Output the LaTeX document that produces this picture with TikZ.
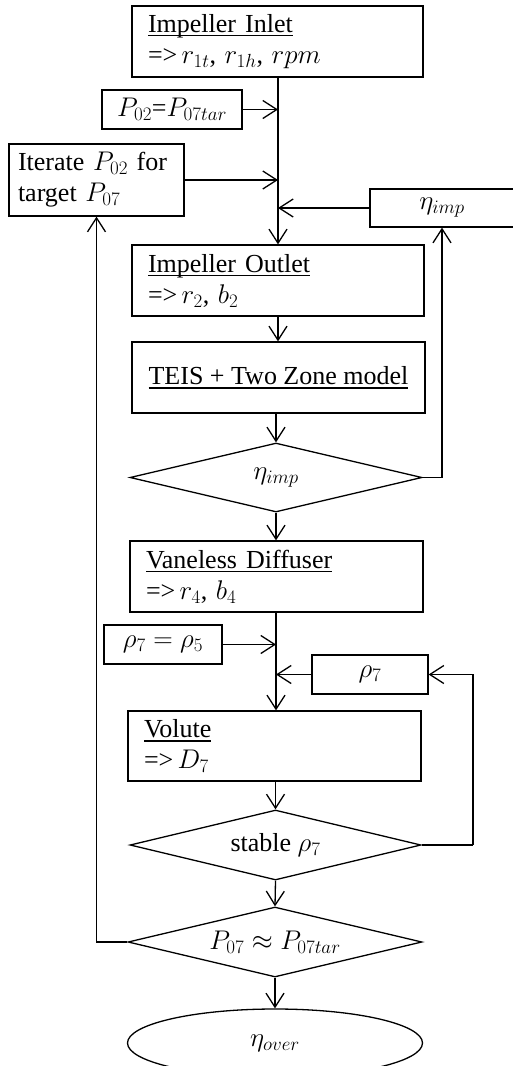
\RequirePackage{fix-cm}
\documentclass[tikz,border=0pt]{standalone}
\usepackage{fontspec}
\setmainfont{Liberation Serif}
\usetikzlibrary{shapes.geometric,arrows.meta}
\DeclareMathSizes{26}{27}{19}{15}
\newcommand{\myul}[1]{\setbox0\hbox{#1}\rlap{\rule[-4pt]{\wd0}{1.1pt}}\box0}
\tikzset{
  base/.style={draw=black, line width=1.3pt, font=\fontsize{26}{31}\selectfont, inner sep=0pt},
  bigbox/.style={base, rectangle, align=left, inner xsep=16pt, minimum height=71pt},
  smallbox/.style={base, rectangle, align=center},
  decision/.style={base, diamond, aspect=4},
  endnode/.style={base, ellipse},
  arr/.style={draw=black, line width=1.3pt, -{Straight Barb[length=14pt,width=18pt,line width=1.3pt]}},
  conn/.style={draw=black, line width=1.3pt},
}
\begin{document}
\begin{tikzpicture}[x=1pt,y=-1pt]
\useasboundingbox (0,0) rectangle (512,1066);
% main column
\node[bigbox, text width=259pt] (inlet) at (277.5,41.5)
  {\myul{Impeller\hspace{0.35em}Inlet}\\=>\,$r_{1t}$, $r_{1h}$, $rpm$};
\node[smallbox, minimum width=140pt, minimum height=39pt] (p02) at (172,109.5)
  {$P_{02}$=$P_{07tar}$};
\node[base, rectangle, align=left, text width=157pt, inner xsep=9pt, minimum height=72pt] (iter) at (96.5,180)
  {Iterate $P_{02}$ for\\target $P_{07}$};
\node[smallbox, minimum width=144pt, minimum height=38pt] (etaimp) at (442,208)
  {$\eta_{imp}$};
\node[bigbox, text width=260pt] (outlet) at (278,280.5)
  {\myul{Impeller\hspace{0.35em}Outlet}\\=>\,$r_2$, $b_2$};
\node[smallbox, minimum width=293pt, minimum height=71pt] (teis) at (278.5,377.5)
  {\myul{TEIS + Two Zone model}};
\node[decision, minimum width=292pt, minimum height=69pt] (d1) at (276,477.5)
  {$\eta_{imp}$};
\node[bigbox, text width=261pt] (diff) at (276.5,576.5)
  {\myul{Vaneless\hspace{0.35em}Diffuser}\\=>\,$r_4$, $b_4$};
\node[smallbox, minimum width=118pt, minimum height=39pt] (rho75) at (163,644.5)
  {$\rho_7 = \rho_5$};
\node[smallbox, minimum width=116pt, minimum height=39pt] (rho7) at (370,674.5)
  {$\rho_7$};
\node[bigbox, text width=261pt, minimum height=70pt] (volute) at (274.5,746)
  {\myul{Volute}\\=>\,$D_7$};
\node[decision, minimum width=291pt, minimum height=70pt] (d2) at (275.5,845)
  {stable $\rho_7$};
\node[decision, minimum width=294pt, minimum height=70pt] (d3) at (275,942)
  {$P_{07}\approx P_{07tar}$};
\node[endnode, minimum width=295pt, minimum height=68pt] (over) at (275,1043)
  {$\eta_{over}$};
% connectors
\coordinate (top) at (278,77);
\draw[arr] (inlet.south -| top) -- (outlet.north -| top);
\draw[arr] (p02.east) -- (p02.east -| top);
\draw[arr] (iter.east) -- (iter.east -| top);
\draw[arr] (etaimp.west) -- (etaimp.west -| top);
\draw[arr] (outlet.south -| top) -- (teis.north -| top);
\draw[arr] (teis.south -| d1.north) -- (d1.north);
\draw[arr] (d1.east) -| (etaimp.south);
\draw[arr] (d1.south) -- (diff.north -| d1.south);
\coordinate (mid) at (276,612);
\draw[arr] (diff.south -| mid) -- (volute.north -| mid);
\draw[arr] (rho75.east) -- (rho75.east -| mid);
\draw[arr] (rho7.west) -- (rho7.west -| mid);
\coordinate (rr) at (473,845);
\draw[conn] (d2.east) -- (rr);
\draw[arr] (rr) |- (rho7.east);
\draw[arr] (volute.south -| d2.north) -- (d2.north);
\draw[arr] (d2.south) -- (d3.north);
\draw[arr] (d3.west) -| (iter.south);
\draw[arr] (d3.south) -- (over.north);
\end{tikzpicture}
\end{document}
